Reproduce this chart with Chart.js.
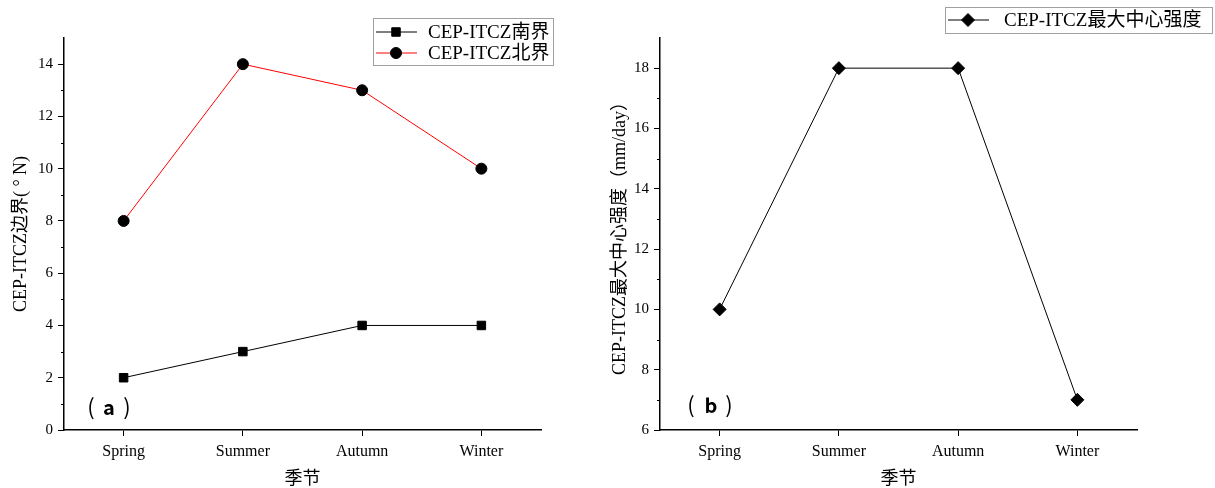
<!DOCTYPE html>
<html>
<head>
<meta charset="utf-8">
<script src="https://cdn.jsdelivr.net/npm/chart.js@4/dist/chart.umd.min.js"></script>
<style>
  body { margin: 0; background: #fff; }
  .box { position: absolute; top: 0; height: 488px; }
</style>
</head>
<body>
<div class="box" style="left:0;width:600px"><canvas id="chart-a"></canvas></div>
<div class="box" style="left:600px;width:615px"><canvas id="chart-b"></canvas></div>
<script>
const seasons = ["Spring", "Summer", "Autumn", "Winter"];
const southBound = [2, 3, 4, 4];
const northBound = [8, 14, 13, 10];
const maxIntensity = [10, 18, 18, 7];

const latin = "'Liberation Serif', 'Noto Sans CJK SC', serif";
Chart.defaults.color = "#000";
Chart.defaults.animation = false;

// legend drawn as a framed box, like the original figure
const boxLegend = {
  id: "boxLegend",
  afterDraw(chart, args, o) {
    const ctx = chart.ctx;
    ctx.save();
    ctx.strokeStyle = "#a0a0a0";
    ctx.lineWidth = 1;
    ctx.strokeRect(o.x + 0.5, o.y + 0.5, o.w, o.h);
    ctx.font = "19px " + latin;
    ctx.textBaseline = "middle";
    chart.data.datasets.forEach((ds, i) => {
      const y = o.y + o.first + i * o.step;
      ctx.strokeStyle = ds.borderColor;
      ctx.lineWidth = 1;
      ctx.beginPath();
      ctx.moveTo(o.x + 3, y);
      ctx.lineTo(o.x + 44, y);
      ctx.stroke();
      ctx.fillStyle = "#000";
      ctx.strokeStyle = "#000";
      Chart.helpers.drawPoint(ctx, { pointStyle: ds.pointStyle, radius: ds.pointRadius, rotation: 0, borderWidth: 1 }, o.x + 23, y);
      ctx.fillStyle = "#000";
      ctx.fillText(ds.label, o.x + o.textX, y + 1);
    });
    ctx.restore();
  }
};

// minor ticks between labelled ticks + panel tag
const extras = {
  id: "extras",
  afterDraw(chart, args, o) {
    const ctx = chart.ctx, y = chart.scales.y;
    ctx.save();
    ctx.strokeStyle = "#000";
    ctx.lineWidth = 1;
    for (let v = y.min + 1; v < y.max; v += 2) {
      const py = Math.round(y.getPixelForValue(v)) + 0.5;
      ctx.beginPath();
      ctx.moveTo(y.right - 3, py);
      ctx.lineTo(y.right, py);
      ctx.stroke();
    }
    const x0 = chart.chartArea.left;
    ctx.fillStyle = "#000";
    ctx.textAlign = "center";
    ctx.textBaseline = "middle";
    ctx.font = "22px 'Noto Sans CJK SC', sans-serif";
    ctx.fillText("(", x0 + o.tagX[0], o.tagY);
    ctx.fillText(")", x0 + o.tagX[2], o.tagY);
    ctx.font = "bold 20px 'Noto Sans CJK SC', sans-serif";
    ctx.fillText(o.tag, x0 + o.tagX[1], o.tagY);
    ctx.restore();
  }
};

function makeChart(id, datasets, cfg) {
  return new Chart(document.getElementById(id), {
    type: "line",
    data: { labels: seasons, datasets: datasets },
    options: {
      responsive: true,
      maintainAspectRatio: false,
      layout: { padding: { top: 38, right: cfg.padRight, left: 0, bottom: 0 } },
      plugins: {
        legend: { display: false },
        tooltip: { enabled: false },
        boxLegend: cfg.legend,
        extras: { tag: cfg.tag, tagX: cfg.tagX, tagY: cfg.tagY }
      },
      scales: {
        x: {
          offset: true,
          grid: { display: true, drawOnChartArea: false, tickLength: 6, tickColor: "#000", offset: false },
          border: { color: "#000", width: 1.5 },
          ticks: { font: { family: latin, size: 16 }, padding: 6 },
          title: { display: true, text: "季节", font: { family: "'Noto Sans CJK SC', sans-serif", size: 18 }, padding: { top: 0, bottom: 0 } },
          afterFit: s => { s.height = 58; }
        },
        y: {
          min: cfg.yMin,
          max: cfg.yMax,
          grid: { drawOnChartArea: false, tickLength: 6, tickColor: "#000" },
          border: { color: "#000", width: 1.5 },
          ticks: { stepSize: 2, font: { family: latin, size: 15 }, padding: 5,
                   callback: v => (v === cfg.yMax ? null : v) },
          title: { display: true, text: cfg.yTitle, font: { family: latin, size: 18 }, padding: { top: cfg.titlePad, bottom: 0 } },
          afterFit: s => { s.width = cfg.yWidth; }
        }
      }
    },
    plugins: [boxLegend, extras]
  });
}

makeChart("chart-a", [
  { label: "CEP-ITCZ南界", data: southBound, borderColor: "#000", backgroundColor: "#000", borderWidth: 1,
    pointStyle: "rect", pointRadius: 6, pointBorderColor: "#000", pointBackgroundColor: "#000" },
  { label: "CEP-ITCZ北界", data: northBound, borderColor: "#ff0000", backgroundColor: "#000", borderWidth: 1,
    pointStyle: "circle", pointRadius: 5.5, pointBorderColor: "#000", pointBackgroundColor: "#000" }
], {
  yMin: 0, yMax: 15, yTitle: "CEP-ITCZ边界( ° N)", yWidth: 64, padRight: 59, titlePad: 10,
  tag: "a", tagX: [27, 45, 63], tagY: 407,
  legend: { x: 373, y: 18, w: 180, h: 47, first: 14, step: 21, textX: 55 }
});

makeChart("chart-b", [
  { label: "CEP-ITCZ最大中心强度", data: maxIntensity, borderColor: "#000", backgroundColor: "#000", borderWidth: 1,
    pointStyle: "rectRot", pointRadius: 6.5, pointBorderColor: "#000", pointBackgroundColor: "#000" }
], {
  yMin: 6, yMax: 19, yTitle: "CEP-ITCZ最大中心强度（mm/day）", yWidth: 60, padRight: 78, titlePad: 9,
  tag: "b", tagX: [31, 51, 69], tagY: 405,
  legend: { x: 345, y: 7, w: 267, h: 26, first: 13, step: 21, textX: 59 }
});
</script>
</body>
</html>
